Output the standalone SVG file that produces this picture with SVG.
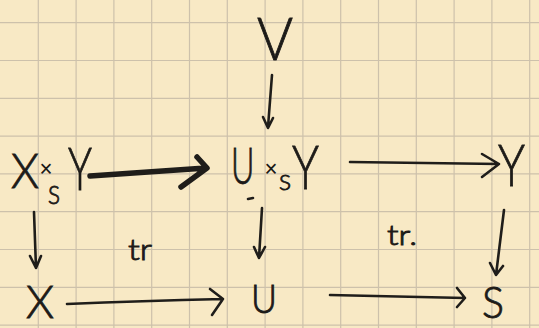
<svg xmlns="http://www.w3.org/2000/svg" width="539" height="328" viewBox="0 0 539 328">
<style>
.bg{fill:#f8e9c5}
.grid{stroke:#cdc1ab;stroke-width:1.2;fill:none}
.t{font-family:"Lato","Open Sans","Liberation Sans",sans-serif;font-weight:300;fill:#1d1b18;stroke:#1d1b18;stroke-width:0.9}
.e{stroke:#1f1d1a;stroke-width:2.6;fill:none;stroke-linecap:round;stroke-linejoin:round}
.thick{stroke-width:5.5}
</style>
<rect class="bg" x="0" y="0" width="539" height="328"/>
<path class="grid" d="M38.3,0V328M76.1,0V328M113.9,0V328M151.7,0V328M189.5,0V328M227.3,0V328M265.1,0V328M302.9,0V328M340.7,0V328M378.5,0V328M416.3,0V328M454.1,0V328M491.9,0V328M529.7,0V328M0,22.7H539M0,60.5H539M0,98.3H539M0,136.1H539M0,173.9H539M0,211.7H539M0,249.5H539M0,287.3H539M0,325.1H539"/>
<g id="connectors">
<path class="e" d="M272,75L268,127M263,117L268,128L273,118"/>
<path class="e thick" d="M90,176L206,168M197,157L207,168L181,187"/>
<path class="e" d="M350,162L499,164M482,154L499,164L482,177"/>
<path class="e" d="M34,212L36,268M30,256L36,268L41,256"/>
<path class="e" d="M262,208L259,258M254,247L259,258L265,247"/>
<path class="e" d="M504,210L496,275M490,263L496,275L503,266"/>
<path class="e" d="M67,304Q140,301 223,299M210,289L223,299L212,315"/>
<path class="e" d="M330,295L465,298M457,288L465,298L457,307"/>
</g>
<g id="n-V"><text class="t" x="257" y="60" font-size="60" textLength="36" lengthAdjust="spacingAndGlyphs">V</text></g>
<g id="n-XxSY">
<text class="t" x="11" y="188" font-size="48" textLength="28" lengthAdjust="spacingAndGlyphs">X</text>
<text class="t" x="40" y="176" font-size="22" textLength="12" lengthAdjust="spacingAndGlyphs">×</text>
<text class="t" x="48" y="204" font-size="26" textLength="12" lengthAdjust="spacingAndGlyphs">S</text>
<text class="t" x="68" y="190" font-size="60" textLength="24" lengthAdjust="spacingAndGlyphs">Y</text>
</g>
<g id="n-UxSY">
<text class="t" transform="translate(231,184) scale(0.62,1)" x="0" y="0" font-size="52">U</text>
<text class="t" x="265" y="176" font-size="22" textLength="12" lengthAdjust="spacingAndGlyphs">×</text>
<text class="t" x="279" y="190" font-size="22" textLength="12" lengthAdjust="spacingAndGlyphs">S</text>
<text class="t" x="292" y="189" font-size="62" textLength="27" lengthAdjust="spacingAndGlyphs">Y</text>
</g>
<g id="n-Y"><text class="t" x="498" y="186" font-size="58" textLength="27" lengthAdjust="spacingAndGlyphs">Y</text></g>
<g id="n-X"><text class="t" x="26" y="318" font-size="46" textLength="28" lengthAdjust="spacingAndGlyphs">X</text></g>
<g id="n-U"><text class="t" x="251" y="313" font-size="40" textLength="26" lengthAdjust="spacingAndGlyphs">U</text></g>
<g id="n-S"><text class="t" x="482" y="318" font-size="44" textLength="22" lengthAdjust="spacingAndGlyphs">S</text></g>
<g id="labels">
<text class="t" x="128" y="260" font-size="30" textLength="24" lengthAdjust="spacingAndGlyphs">tr</text>
<text class="t" x="387" y="245" font-size="28" textLength="30" lengthAdjust="spacingAndGlyphs">tr.</text>
</g>
<path class="e" d="M248,199L253,198"/>
</svg>
